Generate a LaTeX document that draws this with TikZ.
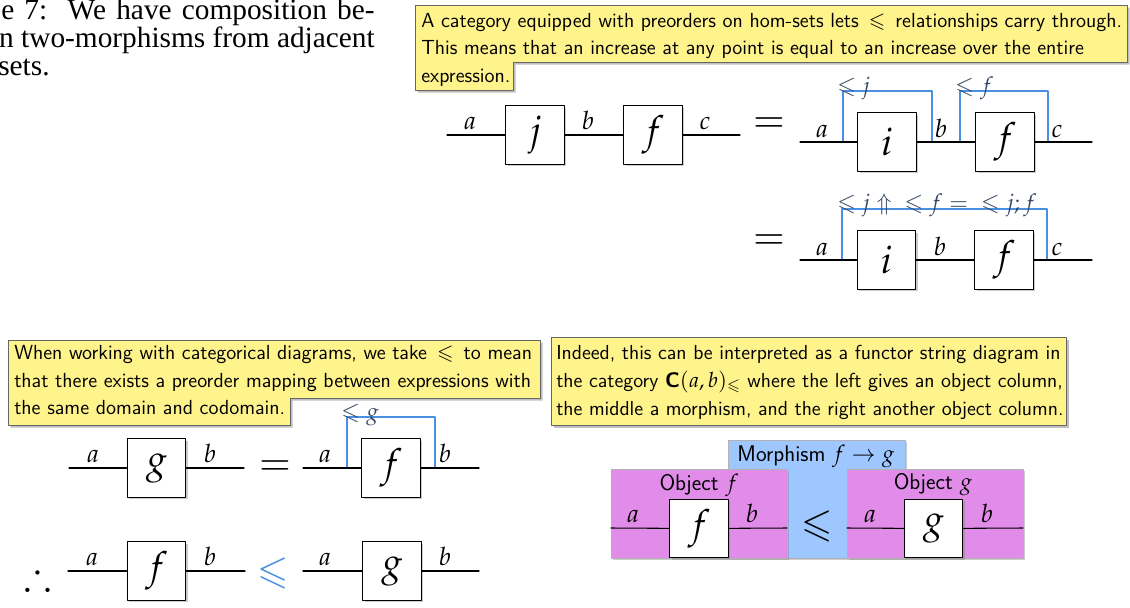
\documentclass[tikz,border=0pt]{standalone}
\usepackage{amsmath,amssymb}
\usepackage{mathpazo}
\usepackage[no-math]{fontspec}
\newfontfamily\timesfont{Liberation Serif}
\usetikzlibrary{shadows}
\definecolor{noteyellow}{RGB}{255,243,140}
\definecolor{leqblue}{RGB}{74,144,226}
\definecolor{labelgray}{RGB}{55,70,100}
\definecolor{objpink}{RGB}{226,140,234}
\definecolor{morphblue}{RGB}{158,199,255}

\begin{document}
\begin{tikzpicture}[x=0.75pt, y=-0.75pt, line join=round, line cap=round,
	mbox/.style={draw, fill=white, line width=0.9pt, minimum width=44pt, minimum height=44pt, inner sep=0pt,
		font=\fontsize{29}{30}\selectfont,
		drop shadow={opacity=0.4, shadow xshift=1.5pt, shadow yshift=-1.5pt}},
	wire/.style={line width=0.8pt},
	wlabel/.style={font=\fontsize{19}{20}\selectfont, anchor=base, inner sep=0pt},
	bracket/.style={draw=leqblue, line width=0.9pt},
	blabel/.style={font=\LARGE, text=labelgray, anchor=base west, inner sep=0pt},
	notebg/.style={fill=noteyellow, draw=black!60, line width=0.4pt,
		drop shadow={opacity=0.5, shadow xshift=2pt, shadow yshift=-2pt}},
	notetext/.style={font=\sffamily\fontsize{15.3}{17}\selectfont, anchor=base west, inner sep=0pt},
	paneltext/.style={font=\sffamily\fontsize{17}{19}\selectfont, inner sep=0pt},
	bigrel/.style={font=\fontsize{29}{30}\selectfont, inner sep=0pt}]
	\useasboundingbox (0,0) rectangle (1130,607);
	% Cut-off caption text
	\begin{scope}[every node/.style={font=\timesfont\fontsize{22}{22}\selectfont, inner sep=0pt}]
		\node[anchor=base west] (capA) at (1,19) {\makebox[280pt][s]{e 7:\ \ We have composition be-}};
		\node[anchor=base east] (capB) at (375,47) {n two-morphisms from adjacent};
		\node[anchor=base west] (capC) at (-2,75) {sets.};
	\end{scope}
	% Top note
	\path[notebg] (415,5) -- (1127,5) -- (1127,62) -- (513,62) -- (513,90) -- (415,90) -- cycle;
	\node[notetext] (topA) at (421,27) {A category equipped with preorders on hom-sets lets \,$\leqslant$\, relationships carry through.};
	\node[notetext] (topB) at (421,54) {This means that an increase at any point is equal to an increase over the entire};
	\node[notetext] (topC) at (421,82) {expression.};
	% Row 1, left side
	\coordinate (r1s) at (447,135);
	\coordinate (r1e) at (740,135);
	\node[mbox] (j) at (535,135) {$j$};
	\node[mbox] (f1) at (653,135) {$f$};
	\draw[wire] (r1s) -- (j) -- (f1) -- (r1e);
	\node[wlabel] (a1) at (470,129) {$a$};
	\node[wlabel] (b1) at (588,129) {$b$};
	\node[wlabel] (c1) at (705,129) {$c$};
	\node[bigrel] (eq1) at (769,125) {$=$};
	% Row 1, right side
	\coordinate (r2s) at (800,142);
	\coordinate (r2e) at (1092,142);
	\coordinate (k1a) at (843,142);
	\coordinate (k1b) at (932,142);
	\coordinate (k2a) at (960,142);
	\coordinate (k2b) at (1048,142);
	\draw[bracket] (k1a) -- ++(0,-51) -| (k1b);
	\draw[bracket] (k2a) -- ++(0,-51) -| (k2b);
	\node[mbox] (i2) at (887,142) {$i$};
	\node[mbox] (f2) at (1005,142) {$f$};
	\draw[wire] (r2s) -- (i2) -- (f2) -- (r2e);
	\node[wlabel] (a2) at (822,137) {$a$};
	\node[wlabel] (b2) at (941,137) {$b$};
	\node[wlabel] (c2) at (1057,137) {$c$};
	\node[blabel] (k1l) at (837,93) {$\leqslant j$};
	\node[blabel] (k2l) at (955,93) {$\leqslant f$};
	% Row 2
	\node[bigrel] (eq2) at (769,242) {$=$};
	\coordinate (r3s) at (800,260);
	\coordinate (r3e) at (1092,260);
	\coordinate (k3a) at (842,260);
	\coordinate (k3b) at (1047,260);
	\draw[bracket] (k3a) -- ++(0,-51) -| (k3b);
	\node[mbox] (i3) at (886.5,260) {$i$};
	\node[mbox] (f3) at (1004,260) {$f$};
	\draw[wire] (r3s) -- (i3) -- (f3) -- (r3e);
	\node[wlabel] (a3) at (822,255) {$a$};
	\node[wlabel] (b3) at (940,255) {$b$};
	\node[wlabel] (c3) at (1057,255) {$c$};
	\node[blabel] (k3l) at (837,210) {$\mathord{\leqslant}\;j \Uparrow\; \mathord{\leqslant}\;f =\; \mathord{\leqslant}\;j; f$};
	% Bottom left note
	\path[notebg] (8,340) -- (540,340) -- (540,398) -- (290,398) -- (290,425) -- (8,425) -- cycle;
	\node[notetext] (leftA) at (14,359) {When working with categorical diagrams, we take \,$\leqslant$\, to mean};
	\node[notetext] (leftB) at (14,387) {that there exists a preorder mapping between expressions with};
	\node[notetext] (leftC) at (14,414) {the same domain and codomain.};
	% Row 3
	\coordinate (r4s) at (69,468);
	\coordinate (r4e) at (244,468);
	\node[mbox] (g4) at (156.5,468) {$g$};
	\draw[wire] (r4s) -- (g4) -- (r4e);
	\node[wlabel] (a4) at (93,462) {$a$};
	\node[wlabel] (b4) at (210,462) {$b$};
	\node[bigrel] (eq4) at (275,468) {$=$};
	\coordinate (r5s) at (303,468);
	\coordinate (r5e) at (479,468);
	\coordinate (k5a) at (347,468);
	\coordinate (k5b) at (435,468);
	\draw[bracket] (k5a) -- ++(0,-51) -| (k5b);
	\node[mbox] (f5) at (391,468) {$f$};
	\draw[wire] (r5s) -- (f5) -- (r5e);
	\node[wlabel] (a5) at (325,462) {$a$};
	\node[wlabel] (b5) at (445,462) {$b$};
	\node[blabel] (k5l) at (341,419) {$\leqslant g$};
	% Row 4
	\node[bigrel] (thus) at (38,576) {$\therefore$};
	\coordinate (r6s) at (68,571);
	\coordinate (r6e) at (245,571);
	\node[mbox] (f6) at (156.5,571) {$f$};
	\draw[wire] (r6s) -- (f6) -- (r6e);
	\node[wlabel] (a6) at (92,565) {$a$};
	\node[wlabel] (b6) at (210,565) {$b$};
	\node[bigrel, text=leqblue] (leq6) at (273,573) {$\leqslant$};
	\coordinate (r7s) at (303,571);
	\coordinate (r7e) at (479,571);
	\node[mbox] (g7) at (392,571) {$g$};
	\draw[wire] (r7s) -- (g7) -- (r7e);
	\node[wlabel] (a7) at (325,565) {$a$};
	\node[wlabel] (b7) at (445,565) {$b$};
	% Right note
	\path[notebg] (551,337) rectangle (1066,425);
	\node[notetext, font=\sffamily\fontsize{15.2}{17}\selectfont] (rightA) at (556,359) {Indeed, this can be interpreted as a functor string diagram in};
	\node[notetext, font=\sffamily\fontsize{15.2}{17}\selectfont] (rightB) at (556,387) {the category {\fontsize{15.8}{18}\selectfont$\textbf{\textsf{C}}(a,b)_{\leqslant}$} where the left gives an object column,};
	\node[notetext, font=\sffamily\fontsize{15.2}{17}\selectfont] (rightC) at (556,415) {the middle a morphism, and the right another object column.};
	% Functor string diagram
	\filldraw[fill=morphblue, draw=black!30, line width=0.4pt, drop shadow={opacity=0.4, shadow xshift=1.5pt, shadow yshift=-1.5pt}] (728,440) rectangle (905,558);
	\filldraw[fill=objpink, draw=black!30, line width=0.4pt, drop shadow={opacity=0.4, shadow xshift=1.5pt, shadow yshift=-1.5pt}] (611,469) rectangle (787,558);
	\filldraw[fill=objpink, draw=black!30, line width=0.4pt, drop shadow={opacity=0.4, shadow xshift=1.5pt, shadow yshift=-1.5pt}] (847,469) rectangle (1023,558);
	\node[paneltext] (morph) at (816,456) {Morphism $f \to g$};
	\node[paneltext] (objf) at (699,485) {Object $f$};
	\node[paneltext] (objg) at (933,485) {Object $g$};
	\coordinate (r8s) at (611,528);
	\coordinate (r8e) at (787,528);
	\node[mbox] (f8) at (699,528.5) {$f$};
	\draw[wire] (r8s) -- (f8) -- (r8e);
	\node[wlabel] (a8) at (633,522) {$a$};
	\node[wlabel] (b8) at (752,522) {$b$};
	\node[bigrel] (leq8) at (817,526) {$\leqslant$};
	\coordinate (r9s) at (847,528);
	\coordinate (r9e) at (1023,528);
	\node[mbox] (g9) at (933.5,528.5) {$g$};
	\draw[wire] (r9s) -- (g9) -- (r9e);
	\node[wlabel] (a9) at (870,522) {$a$};
	\node[wlabel] (b9) at (987,522) {$b$};
\end{tikzpicture}
\end{document}
